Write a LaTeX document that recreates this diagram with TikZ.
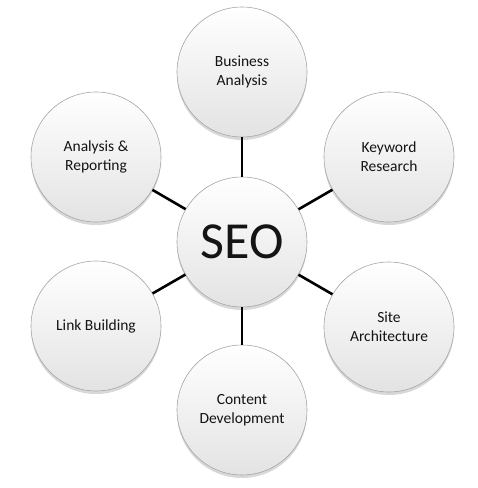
\documentclass[tikz,border=0pt]{standalone}
\usepackage{fontspec}
\setmainfont{Carlito}
\usetikzlibrary{shadows}
\begin{document}
\begin{tikzpicture}[x=1pt,y=-1pt,
  bubble/.style={circle, minimum size=130pt, inner sep=0pt, align=center,
    top color=white, bottom color=black!11, draw=black!35, line width=0.6pt,
    drop shadow={shadow xshift=0pt, shadow yshift=-3pt, opacity=0.22, fill=black!70},
    font=\fontsize{15.5}{19}\selectfont, text=black!92},
  hub/.style={bubble, font=\fontsize{52}{56}\selectfont},
  link/.style={line width=2.6pt, black}]
\useasboundingbox (0,0) rectangle (478,488);
\node[hub] (seo) at (242,242) {SEO};
\node[bubble] (ba) at (242,72) {Business\\Analysis};
\node[bubble] (kr) at (389,157) {Keyword\\Research};
\node[bubble] (sa) at (389,327) {Site\\Architecture};
\node[bubble] (cd) at (242,410) {Content\\Development};
\node[bubble] (lb) at (96,326) {Link Building};
\node[bubble] (ar) at (96,157) {Analysis \&\\Reporting};
\foreach \n in {ba,kr,sa,cd,lb,ar} \draw[link] (seo) -- (\n);
\end{tikzpicture}
\end{document}
